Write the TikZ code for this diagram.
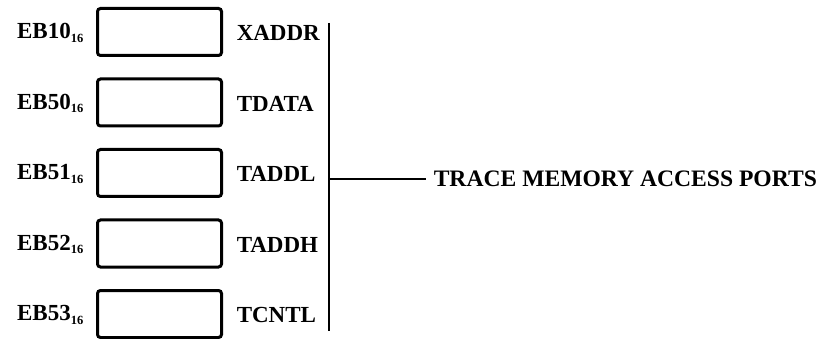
\documentclass[tikz,border=0pt]{standalone}
\usepackage{fontspec}
\setmainfont{Liberation Serif}
\usetikzlibrary{positioning}
\tikzset{
  regbox/.style={draw,line width=3pt,rounded corners=3pt,minimum width=124pt,minimum height=47pt,inner sep=0pt},
  lbl/.style={font=\fontsize{23}{26}\selectfont\bfseries,inner sep=0pt}
}
\newcommand{\hexsub}[1]{\raisebox{-3.5pt}{\fontsize{12.5}{13}\selectfont #1}}
\begin{document}
\begin{tikzpicture}[x=1pt,y=1pt,line width=1.5pt]
  \useasboundingbox (0,0) rectangle (835,-339);
  \foreach \addr/\name [count=\xi] in {10/XADDR,50/TDATA,51/TADDL,52/TADDH,53/TCNTL}
  {
    \node[regbox] (reg\xi) at (159.5,{-32-70.5*(\xi-1)}) {};
    \node[lbl,anchor=east] (addr\xi) at (84,{-33-70.5*(\xi-1)}) {EB\addr\hexsub{16}};
    \node[lbl,anchor=west] (name\xi) at (236,{-33-70.5*(\xi-1)}) {\name};
  }
  \coordinate (bustop) at (329,-23);
  \coordinate (busbot) at (329,-331);
  \node[lbl,font=\fontsize{23.6}{26}\selectfont\bfseries,anchor=west,inner xsep=7pt] (title) at (426,-179) {TRACE MEMORY ACCESS PORTS};
  \draw (bustop) -- (busbot);
  \draw (title.west -| bustop) -- (title.west);
\end{tikzpicture}
\end{document}
